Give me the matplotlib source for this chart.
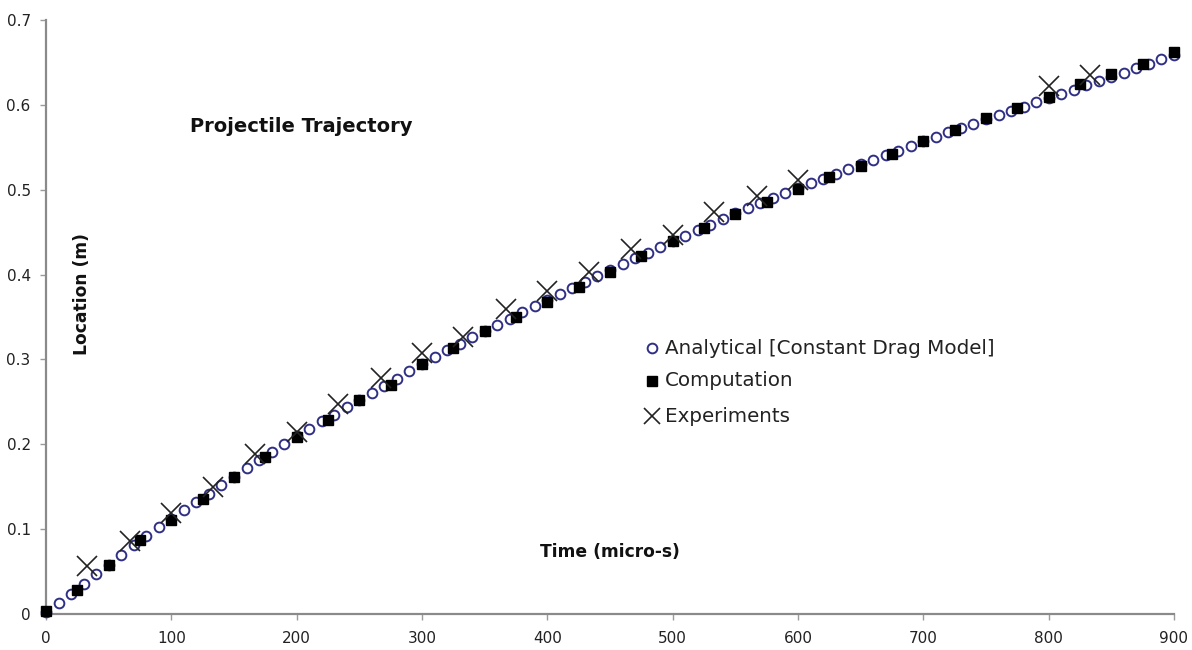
import matplotlib
matplotlib.use("Agg")
import matplotlib.pyplot as plt

# ---- data ----
analytical_t = [0, 10, 20, 30, 40, 50, 60, 70, 80, 90,
                100, 110, 120, 130, 140, 150, 160, 170, 180, 190,
                200, 210, 220, 230, 240, 250, 260, 270, 280, 290,
                300, 310, 320, 330, 340, 350, 360, 370, 380, 390,
                400, 410, 420, 430, 440, 450, 460, 470, 480, 490,
                500, 510, 520, 530, 540, 550, 560, 570, 580, 590,
                600, 610, 620, 630, 640, 650, 660, 670, 680, 690,
                700, 710, 720, 730, 740, 750, 760, 770, 780, 790,
                800, 810, 820, 830, 840, 850, 860, 870, 880, 890, 900]
analytical_y = [0.002, 0.013, 0.024, 0.035, 0.047, 0.058, 0.069, 0.081, 0.092, 0.102,
                0.112, 0.122, 0.132, 0.142, 0.152, 0.162, 0.172, 0.181, 0.191, 0.200,
                0.210, 0.218, 0.227, 0.235, 0.244, 0.252, 0.261, 0.269, 0.277, 0.286,
                0.295, 0.303, 0.311, 0.318, 0.326, 0.334, 0.341, 0.348, 0.356, 0.363,
                0.370, 0.377, 0.384, 0.391, 0.398, 0.405, 0.412, 0.419, 0.426, 0.433,
                0.440, 0.446, 0.453, 0.459, 0.466, 0.472, 0.478, 0.484, 0.490, 0.496,
                0.502, 0.508, 0.513, 0.519, 0.524, 0.530, 0.535, 0.541, 0.546, 0.552,
                0.557, 0.562, 0.568, 0.573, 0.578, 0.583, 0.588, 0.593, 0.598, 0.603,
                0.608, 0.613, 0.618, 0.623, 0.628, 0.633, 0.638, 0.643, 0.648, 0.654, 0.659]

computation_t = [0, 25, 50, 75, 100, 125, 150, 175, 200, 225, 250, 275, 300,
                 325, 350, 375, 400, 425, 450, 475, 500, 525, 550, 575, 600,
                 625, 650, 675, 700, 725, 750, 775, 800, 825, 850, 875, 900]
computation_y = [0.003, 0.028, 0.058, 0.087, 0.111, 0.136, 0.161, 0.185, 0.209,
                 0.229, 0.252, 0.270, 0.295, 0.313, 0.334, 0.350, 0.368, 0.385,
                 0.403, 0.422, 0.440, 0.455, 0.471, 0.485, 0.501, 0.515, 0.528,
                 0.542, 0.557, 0.570, 0.584, 0.596, 0.609, 0.624, 0.636, 0.648, 0.662]

experiment_t = [33, 67, 100, 133, 167, 200, 233, 267, 300, 333,
                367, 400, 433, 467, 500, 533, 567, 600, 800, 833]
experiment_y = [0.056, 0.086, 0.119, 0.150, 0.188, 0.215, 0.247, 0.278, 0.307, 0.327,
                0.360, 0.381, 0.403, 0.430, 0.447, 0.474, 0.493, 0.512, 0.622, 0.635]

x_ticks = [0, 100, 200, 300, 400, 500, 600, 700, 800, 900]
y_ticks = [0, 0.1, 0.2, 0.3, 0.4, 0.5, 0.6, 0.7]
y_tick_labels = ["0", "0.1", "0.2", "0.3", "0.4", "0.5", "0.6", "0.7"]

labels = ["Analytical [Constant Drag Model]", "Computation", "Experiments"]
title_text = "Projectile Trajectory"
x_label = "Time (micro-s)"
y_label = "Location (m)"

# ---- styling ----
plt.rcParams['font.family'] = ['DejaVu Sans']
W, H = 1192, 650
fig = plt.figure(figsize=(W / 100, H / 100), dpi=100)
ax = fig.add_axes([46 / W, 1 - 614 / H, (1174 - 46) / W, (614 - 20) / H])

circ_color = "#2f2f85"
circ_style = dict(linestyle="none", marker="o", markersize=7, markerfacecolor="white",
                  markeredgecolor=circ_color, markeredgewidth=1.4)
sq_style = dict(linestyle="none", marker="s", markersize=7, color="black")
x_style = dict(linestyle="none", marker="x", markersize=15, markeredgecolor="#222222",
               markeredgewidth=1.2)

ax.plot(analytical_t, analytical_y, zorder=3, clip_on=False, **circ_style)
ax.plot(computation_t, computation_y, zorder=4, clip_on=False, **sq_style)
ax.plot(experiment_t, experiment_y, zorder=5, clip_on=False, **x_style)

ax.set_xlim(0, 900)
ax.set_ylim(0, 0.7)
ax.set_xticks(x_ticks)
ax.set_yticks(y_ticks)
ax.set_yticklabels(y_tick_labels)
for s in ["top", "right"]:
    ax.spines[s].set_visible(False)
for s in ["left", "bottom"]:
    ax.spines[s].set_color("#8a8a8a")
    ax.spines[s].set_linewidth(1.6)
ax.tick_params(axis="both", direction="out", length=4, width=1, color="#9a9a9a",
               labelsize=11, labelcolor="#222222")
ax.tick_params(axis="y", pad=7)
ax.tick_params(axis="x", pad=8)

fig.text(190 / W, 1 - 127 / H, title_text, fontsize=14, fontweight="bold",
         ha="left", va="center", color="#111111")
fig.text(610 / W, 1 - 552 / H, x_label, fontsize=12.3, fontweight="bold",
         ha="center", va="center", color="#111111")
fig.text(82 / W, 1 - 294 / H, y_label, fontsize=12.3, fontweight="bold",
         ha="center", va="center", rotation=90, color="#111111")

# legend drawn row by row
row_y = [348, 381, 416]
styles = [circ_style, sq_style, dict(x_style, markersize=12)]
for lab, yy, st in zip(labels, row_y, styles):
    fig.add_artist(plt.Line2D([652 / W], [1 - yy / H], transform=fig.transFigure, **st))
    fig.text(665 / W, 1 - yy / H, lab, fontsize=14.3, ha="left", va="center",
             color="#222222")

fig.savefig("out.png", dpi=100)
